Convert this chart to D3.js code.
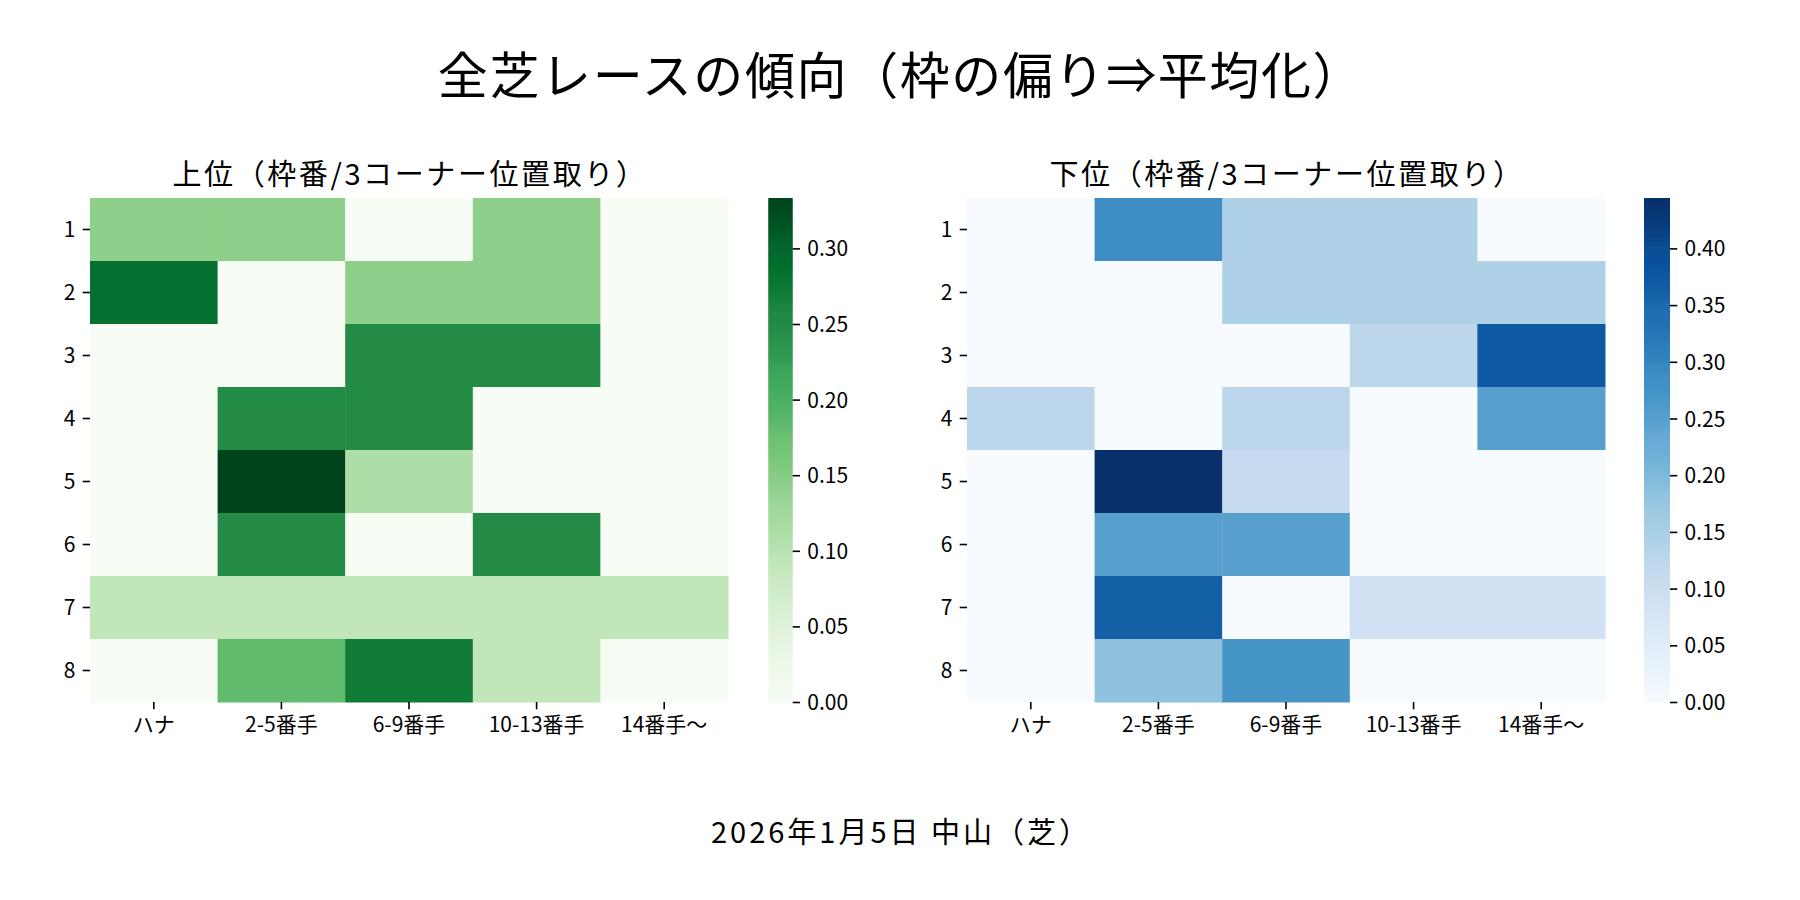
<!DOCTYPE html>
<html lang="ja">
<head>
<meta charset="UTF-8">
<title>全芝レースの傾向</title>
<script src="https://cdn.jsdelivr.net/npm/d3@7"></script>
<style>
    body { margin: 0; background: #fff; }
    svg text { font-family: "Noto Sans CJK JP", "Noto Sans", sans-serif; fill: #000; }
</style>
</head>
<body>
<div id="chart"></div>
<script>
    // data
    const frames = ["1", "2", "3", "4", "5", "6", "7", "8"];
    const positions = ["ハナ", "2-5番手", "6-9番手", "10-13番手", "14番手〜"];

    const topValues = [
        [1/7, 1/7, 0, 1/7, 0],
        [2/7, 0, 1/7, 1/7, 0],
        [0, 0, 0.25, 0.25, 0],
        [0, 0.25, 0.25, 0, 0],
        [0, 1/3, 1/9, 0, 0],
        [0, 0.25, 0, 0.25, 0],
        [1/11, 1/11, 1/11, 1/11, 1/11],
        [0, 2/11, 3/11, 1/11, 0]
    ];
    const bottomValues = [
        [0, 2/7, 1/7, 1/7, 0],
        [0, 0, 1/7, 1/7, 1/7],
        [0, 0, 0, 1/8, 3/8],
        [1/8, 0, 1/8, 0, 2/8],
        [0, 4/9, 1/9, 0, 0],
        [0, 0.25, 0.25, 0, 0],
        [0, 4/11, 0, 1/11, 1/11],
        [0, 2/11, 3/11, 0, 0]
    ];
    const topTicks = [0, 0.05, 0.10, 0.15, 0.20, 0.25, 0.30];
    const bottomTicks = [0, 0.05, 0.10, 0.15, 0.20, 0.25, 0.30, 0.35, 0.40];

    const greens = ["#f7fcf5", "#e5f5e0", "#c7e9c0", "#a1d99b", "#74c476", "#41ab5d", "#238b45", "#006d2c", "#00441b"];
    const blues = ["#f7fbff", "#deebf7", "#c6dbef", "#9ecae1", "#6baed6", "#4292c6", "#2171b5", "#08519c", "#08306b"];

    const width = 1800, height = 900;
    const plotTop = 198, plotBottom = 702;
    const tickLen = 7.3, tickPad = 7.3;

    const svg = d3.select("#chart").append("svg")
        .attr("width", width)
        .attr("height", height);

    svg.append("text")
        .attr("x", 901).attr("y", 72)
        .attr("text-anchor", "middle")
        .attr("dominant-baseline", "central")
        .style("font-size", "50px")
        .style("letter-spacing", "1.6px")
        .text("全芝レースの傾向（枠の偏り⇒平均化）");

    svg.append("text")
        .attr("x", 901).attr("y", 830)
        .attr("text-anchor", "middle")
        .attr("dominant-baseline", "central")
        .style("font-size", "29px")
        .style("letter-spacing", "3px")
        .text("2026年1月5日 中山（芝）");

    function drawPanel(opt) {
        const values = opt.values;
        const vmax = d3.max(values.flat());

        const x = d3.scaleBand().domain(positions).range([opt.left, opt.right]);
        const y = d3.scaleBand().domain(frames).range([plotTop, plotBottom]);
        const color = d3.scaleLinear()
            .domain(d3.range(9).map(i => vmax * i / 8))
            .range(opt.colors)
            .clamp(true);

        const g = svg.append("g");

        const cells = [];
        values.forEach((row, i) => row.forEach((v, j) => cells.push({ f: frames[i], p: positions[j], v: v })));

        g.selectAll("rect.cell")
            .data(cells)
            .enter().append("rect")
            .attr("class", "cell")
            .attr("x", d => x(d.p))
            .attr("y", d => y(d.f))
            .attr("width", x.bandwidth() + 0.5)
            .attr("height", y.bandwidth() + 0.5)
            .attr("fill", d => color(d.v));

        const xAxis = d3.axisBottom(x).tickSize(tickLen).tickPadding(tickPad);
        const yAxis = d3.axisLeft(y).tickSize(tickLen).tickPadding(tickPad);

        const gx = g.append("g")
            .attr("transform", `translate(0, ${plotBottom})`)
            .call(xAxis);
        const gy = g.append("g")
            .attr("transform", `translate(${opt.left}, 0)`)
            .call(yAxis);

        [gx, gy].forEach(a => {
            a.select(".domain").remove();
            a.selectAll(".tick line").attr("stroke", "#000").attr("stroke-width", 1.6);
            a.selectAll(".tick text").style("font-size", "21px").attr("fill", "#000");
        });
        gy.selectAll(".tick text").attr("dy", "0.36em");

        g.append("text")
            .attr("x", (opt.left + opt.right) / 2 + 1)
            .attr("y", 172)
            .attr("text-anchor", "middle")
            .attr("dominant-baseline", "central")
            .style("font-size", "29px")
            .style("letter-spacing", "2.6px")
            .text(opt.title);

        // colorbar
        const cb = d3.scaleLinear().domain([0, vmax]).range([plotBottom, plotTop]);
        const steps = d3.range(256).map(i => vmax * i / 255);
        const stepH = (plotBottom - plotTop) / 256;
        g.selectAll("rect.cb")
            .data(steps)
            .enter().append("rect")
            .attr("class", "cb")
            .attr("x", opt.cbLeft)
            .attr("y", (d, i) => plotBottom - (i + 1) * stepH)
            .attr("width", opt.cbWidth)
            .attr("height", stepH + 0.6)
            .attr("fill", d => color(d));

        const cbAxis = d3.axisRight(cb)
            .tickValues(opt.ticks)
            .tickFormat(d3.format(".2f"))
            .tickSize(tickLen)
            .tickPadding(tickPad);

        const gc = g.append("g")
            .attr("transform", `translate(${opt.cbLeft + opt.cbWidth}, 0)`)
            .call(cbAxis);
        gc.select(".domain").remove();
        gc.selectAll(".tick line").attr("stroke", "#000").attr("stroke-width", 1.6);
        gc.selectAll(".tick text").style("font-size", "21px").attr("fill", "#000").attr("dy", "0.36em");
    }

    drawPanel({
        values: topValues, colors: greens, ticks: topTicks,
        left: 90, right: 728, cbLeft: 768.3, cbWidth: 24.4,
        title: "上位（枠番/3コーナー位置取り）"
    });
    drawPanel({
        values: bottomValues, colors: blues, ticks: bottomTicks,
        left: 967, right: 1605, cbLeft: 1644, cbWidth: 26,
        title: "下位（枠番/3コーナー位置取り）"
    });
</script>
</body>
</html>
